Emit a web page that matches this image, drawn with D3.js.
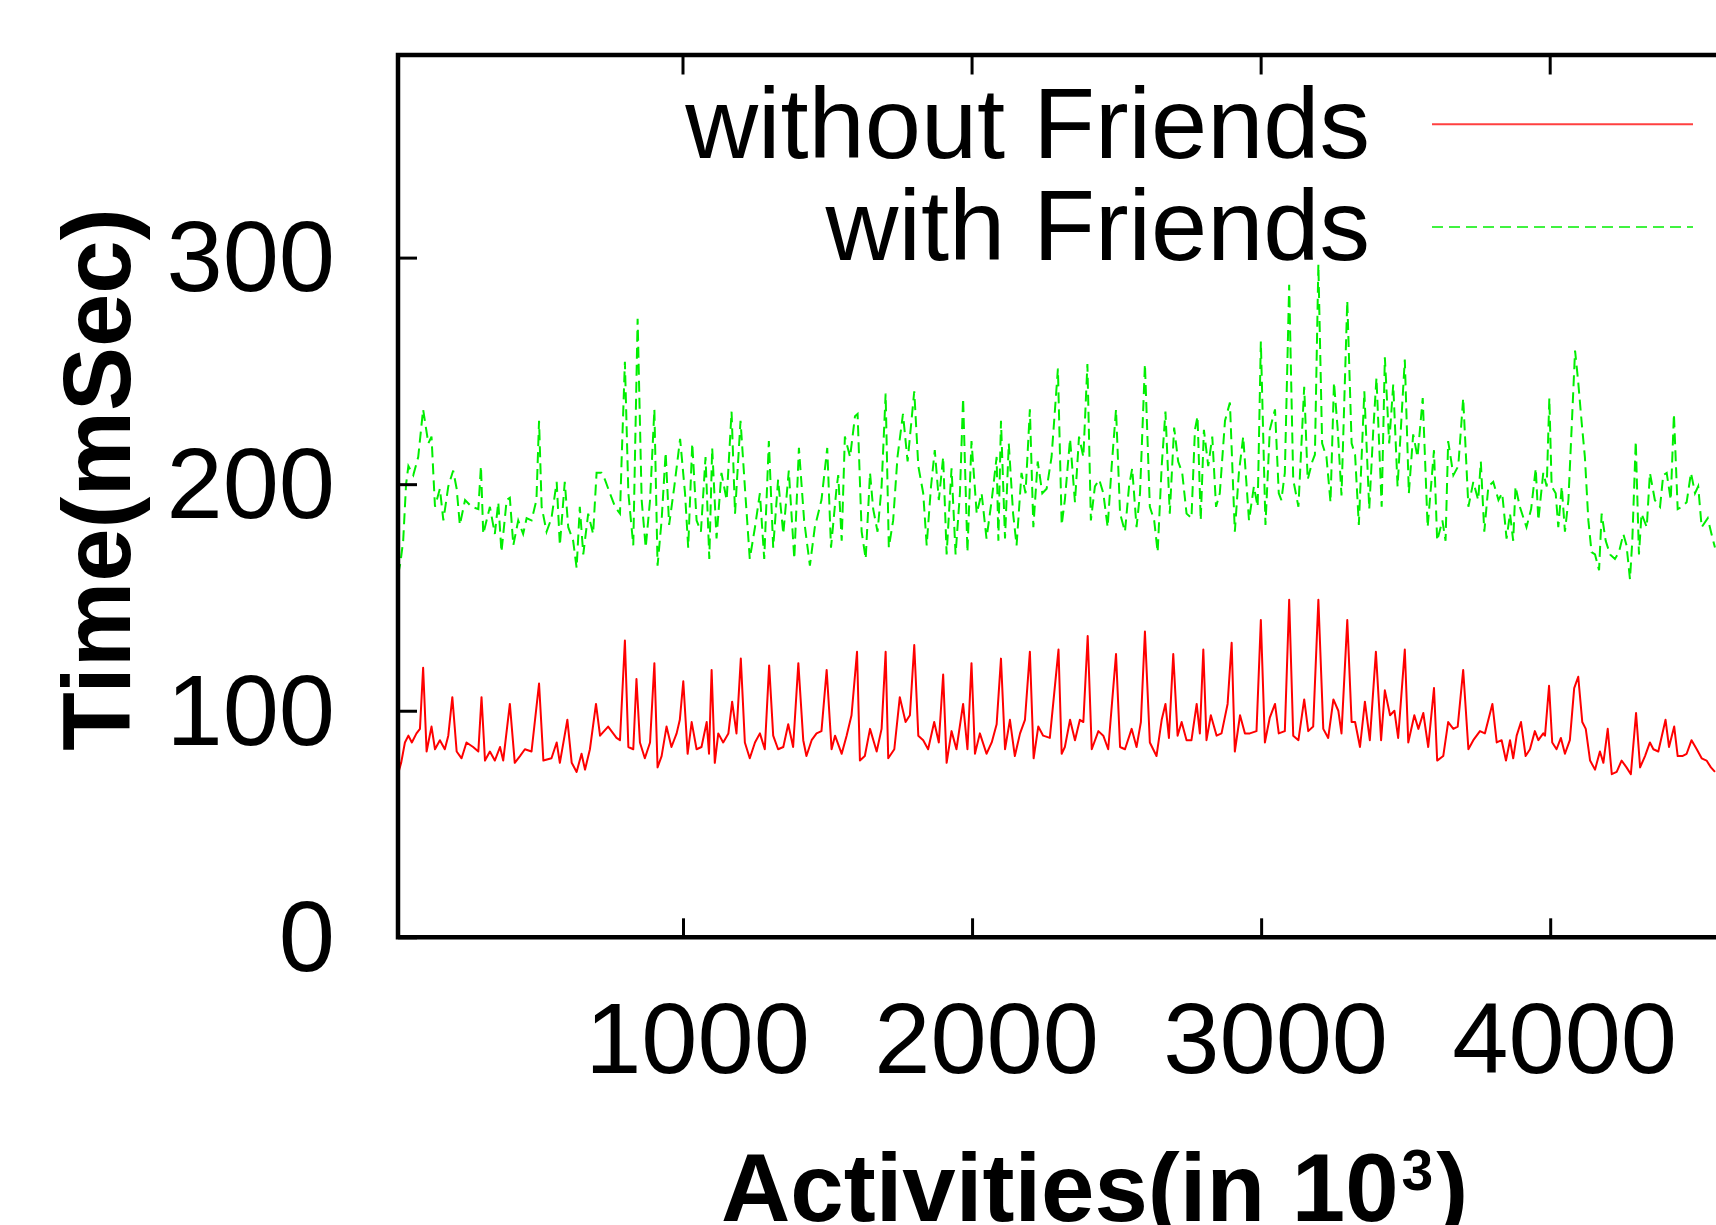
<!DOCTYPE html>
<html><head><meta charset="utf-8">
<script src="https://cdn.jsdelivr.net/npm/d3@7"></script>
<style>html,body{margin:0;padding:0;background:#fff;overflow:hidden}</style>
</head><body>
<svg id="c" width="1716" height="1225"></svg>
<script>
// ---------- data ----------
const xTicks = [1000, 2000, 3000, 4000];
const yTicks = [0, 100, 200, 300];
const seriesNames = ["without Friends", "with Friends"];
const xTitle = "Activities(in 10";
const xTitleSup = "3";
const yTitle = "Time(mSec)";

const redX = [14,25,38,50,62,78,90,101,113,130,142,159,176,188,202,217,234,251,274,292,303,315,332,349,367,378,401,418,436,453,476,502,517,545,563,574,600,615,632,649,661,678,699,713,741,770,782,799,811,828,839,851,868,886,901,912,926,943,960,978,989,1001,1016,1030,1047,1064,1082,1090,1099,1110,1122,1139,1157,1170,1185,1200,1214,1231,1249,1266,1283,1298,1312,1329,1347,1364,1381,1399,1416,1427,1445,1462,1479,1497,1514,1526,1549,1566,1583,1602,1612,1629,1647,1670,1687,1701,1710,1731,1750,1770,1785,1800,1814,1831,1848,1869,1885,1900,1912,1929,1946,1969,1984,1998,2010,2027,2050,2068,2085,2100,2114,2131,2148,2166,2183,2200,2213,2229,2246,2269,2299,2310,2321,2339,2356,2373,2385,2400,2414,2437,2454,2471,2498,2512,2529,2552,2569,2584,2598,2615,2638,2656,2669,2681,2696,2711,2725,2742,2759,2777,2788,2800,2811,2826,2846,2863,2884,2898,2909,2927,2944,2961,2984,2999,3013,3030,3048,3061,3082,3097,3111,3129,3149,3163,3180,3198,3215,3232,3250,3267,3278,3298,3313,3325,3342,3359,3376,3397,3415,3428,3446,3461,3474,3497,3509,3530,3544,3561,3578,3598,3609,3630,3647,3665,3680,3699,3717,3734,3757,3774,3800,3815,3832,3847,3861,3872,3884,3899,3915,3930,3947,3959,3976,3982,3996,4007,4022,4037,4051,4068,4083,4097,4111,4123,4138,4155,4172,4184,4199,4213,4230,4247,4264,4279,4297,4311,4328,4345,4357,4374,4399,4411,4429,4441,4457,4472,4489,4507,4524,4541,4556,4570];
const redY = [72,77,86,89,86,90,92,119,82,93,83,87,83,89,106,82,79,86,84,82,106,78,82,78,84,78,103,77,80,83,82,112,78,79,86,77,96,77,73,81,74,83,103,89,93,88,87,131,84,83,114,86,79,86,121,75,80,93,84,90,96,113,81,95,83,84,95,81,118,77,90,86,90,104,90,123,86,79,86,90,83,120,89,83,84,94,84,121,87,80,87,90,91,118,83,89,81,89,98,126,78,80,92,82,92,126,79,83,106,95,98,129,89,87,83,95,86,116,77,91,83,103,83,121,81,90,81,86,94,123,83,96,80,90,96,126,79,93,89,88,127,81,84,96,87,96,95,133,83,91,89,83,125,84,83,92,84,95,135,86,80,96,103,88,125,89,95,87,87,103,90,127,87,98,89,90,103,130,82,98,90,90,91,140,86,97,103,90,91,149,89,87,105,91,93,149,92,88,105,100,90,140,95,95,84,104,87,126,87,109,98,100,88,127,86,98,92,99,84,110,78,80,95,92,93,118,83,87,91,90,103,86,87,78,87,79,89,95,80,83,91,87,90,89,111,86,83,88,81,87,110,115,95,92,78,74,82,77,92,72,73,78,75,72,99,75,80,86,83,82,96,84,93,80,80,81,87,83,79,78,75,73];

const greenX = [14,22,32,42,50,67,84,101,119,130,142,159,171,188,205,217,228,246,269,292,301,309,332,349,361,372,390,401,413,430,447,459,476,493,502,511,528,545,563,574,591,603,620,632,643,655,672,689,701,718,730,747,765,782,788,799,811,828,843,857,871,886,901,912,926,940,952,970,990,1007,1018,1032,1047,1062,1078,1091,1101,1116,1133,1151,1168,1180,1199,1216,1231,1249,1266,1281,1297,1312,1329,1347,1366,1385,1401,1419,1439,1456,1479,1499,1512,1531,1537,1549,1560,1578,1595,1604,1618,1632,1647,1658,1673,1687,1701,1712,1727,1742,1761,1777,1800,1814,1831,1843,1858,1871,1885,1900,1912,1929,1943,1958,1969,1984,1998,2016,2033,2050,2068,2085,2091,2100,2114,2127,2142,2154,2171,2185,2200,2212,2227,2243,2258,2275,2297,2310,2321,2339,2356,2370,2385,2399,2411,2425,2440,2454,2469,2483,2498,2512,2529,2543,2554,2569,2581,2598,2615,2630,2642,2656,2669,2684,2699,2713,2727,2742,2759,2771,2780,2791,2802,2817,2831,2844,2857,2875,2892,2909,2923,2938,2958,2975,2988,2999,3015,3030,3048,3061,3070,3082,3097,3111,3129,3149,3161,3177,3186,3198,3211,3226,3240,3252,3265,3278,3298,3313,3325,3338,3357,3374,3388,3399,3417,3428,3443,3457,3472,3497,3511,3526,3541,3559,3576,3598,3609,3627,3638,3647,3665,3682,3699,3717,3734,3751,3760,3772,3786,3803,3821,3834,3849,3861,3872,3880,3895,3918,3934,3950,3959,3976,3988,3997,4005,4019,4028,4040,4051,4063,4076,4086,4097,4109,4120,4132,4143,4155,4169,4178,4192,4207,4224,4238,4253,4264,4276,4284,4296,4307,4316,4334,4345,4362,4380,4391,4403,4417,4428,4441,4455,4472,4487,4501,4512,4524,4545,4558,4570];
const greenY = [160,165,175,200,208,204,212,233,218,221,190,198,184,199,206,198,182,193,190,189,208,178,190,178,192,170,193,194,173,184,178,185,184,193,228,190,179,185,201,173,201,181,175,163,190,169,187,178,205,205,202,196,190,187,212,254,196,173,273,193,172,193,233,164,184,214,182,199,220,196,172,218,184,179,212,167,216,176,205,193,232,187,228,195,167,181,196,167,219,172,202,178,206,167,216,184,164,181,193,216,172,198,204,175,221,212,230,231,179,167,205,189,179,199,240,172,184,212,231,210,241,208,196,173,199,215,193,212,169,207,169,196,238,170,219,187,196,176,193,212,175,228,176,218,187,173,205,196,233,181,210,196,198,212,251,182,193,220,192,221,212,253,184,199,202,196,181,208,233,187,179,199,207,181,196,253,190,184,170,208,232,187,225,210,205,187,185,224,230,184,224,208,221,190,196,228,236,179,205,221,184,199,190,263,182,224,233,196,193,205,288,202,190,243,202,210,213,297,218,212,192,245,224,195,281,218,213,182,241,189,224,247,190,256,218,244,199,255,196,222,212,238,181,215,175,184,175,219,204,208,238,190,201,193,210,179,199,201,193,196,176,187,175,199,190,181,189,207,184,205,199,238,199,196,181,199,179,193,230,259,245,227,212,184,170,169,162,187,175,169,167,170,178,173,158,175,219,169,187,181,205,193,190,204,205,193,231,189,190,192,205,196,199,181,185,178,172];

// ---------- layout ----------
const FONT = "'Liberation Sans', Arial, Helvetica, sans-serif";
const plotLeft = 398, plotTop = 55, plotBottom = 937.3, plotRight = 1720;
const x = d3.scaleLinear().domain([1000, 4000]).range([683, 1550.2]);
const y = d3.scaleLinear().domain([0, 300]).range([937.3, 257.6]);

const svg = d3.select("#c");
svg.append("rect").attr("width", 1716).attr("height", 1225).attr("fill", "#fff");

svg.append("defs").append("clipPath").attr("id", "plotclip")
  .append("rect").attr("x", plotLeft).attr("y", plotTop)
  .attr("width", plotRight - plotLeft).attr("height", plotBottom - plotTop);

// series lines
const line = d3.line().x(d => x(d[0])).y(d => y(d[1]));
const redData = redX.map((v, i) => [v, redY[i]]);
const greenData = greenX.map((v, i) => [v, greenY[i]]);
const g = svg.append("g").attr("clip-path", "url(#plotclip)");
g.append("path").datum(greenData).attr("d", line)
  .attr("fill", "none").attr("stroke", "#00ee00").attr("stroke-width", 2)
  .attr("stroke-dasharray", "11,6");
g.append("path").datum(redData).attr("d", line)
  .attr("fill", "none").attr("stroke", "#ff0000").attr("stroke-width", 2)
  .attr("stroke-linejoin", "round");

// axes
const yAxis = d3.axisLeft(y).tickValues(yTicks).tickSizeInner(-19).tickSizeOuter(0)
  .tickPadding(63).tickFormat(d3.format("d"));
const ya = svg.append("g").attr("transform", `translate(${plotLeft},0)`).call(yAxis);
ya.select(".domain").remove();
ya.selectAll(".tick line").attr("stroke", "#000").attr("stroke-width", 3);
ya.selectAll(".tick text").attr("font-family", FONT).attr("font-size", 101)
  .attr("fill", "#000").attr("dy", "0.33em");

const xAxis = d3.axisBottom(x).tickValues(xTicks).tickSizeInner(-19).tickSizeOuter(0)
  .tickPadding(64).tickFormat(d3.format("d"));
const xa = svg.append("g").attr("transform", `translate(0,${plotBottom})`).call(xAxis);
xa.select(".domain").remove();
xa.selectAll(".tick line").attr("stroke", "#000").attr("stroke-width", 3);
xa.selectAll(".tick text").attr("font-family", FONT).attr("font-size", 101)
  .attr("fill", "#000").attr("dx", 14);

// mirror ticks on top border
svg.append("g").selectAll("line").data(xTicks).join("line")
  .attr("x1", d => x(d)).attr("x2", d => x(d))
  .attr("y1", plotTop).attr("y2", plotTop + 19.5)
  .attr("stroke", "#000").attr("stroke-width", 3);

// frame
const frame = svg.append("g").attr("stroke", "#000").attr("stroke-width", 4.5).attr("fill", "none");
frame.append("path").attr("d", `M${plotRight},${plotTop}H${plotLeft}V${plotBottom}H${plotRight}`)
  .attr("stroke-linecap", "square");

// axis titles
svg.append("text").attr("transform", "translate(130,479.5) rotate(-90)")
  .attr("text-anchor", "middle").attr("font-family", FONT).attr("font-weight", "bold")
  .attr("font-size", 96).attr("fill", "#000").text(yTitle);

const xt = svg.append("text").attr("x", 721).attr("y", 1221)
  .attr("font-family", FONT).attr("font-weight", "bold").attr("font-size", 96).attr("fill", "#000");
xt.append("tspan").text(xTitle);
xt.append("tspan").attr("dx", 3).attr("dy", -31).attr("font-size", 57).text(xTitleSup);
xt.append("tspan").attr("dx", 3).attr("dy", 31).text(")");

// legend
const legY = [158, 259.6];
const legLineY = [124.3, 227];
const legend = svg.append("g");
seriesNames.forEach((name, i) => {
  legend.append("text").attr("x", 1370).attr("y", legY[i]).attr("text-anchor", "end")
    .attr("font-family", FONT).attr("font-size", 101).attr("fill", "#000").text(name);
  legend.append("line").attr("x1", 1432).attr("x2", 1693)
    .attr("y1", legLineY[i]).attr("y2", legLineY[i])
    .attr("stroke", i === 0 ? "#ff0000" : "#00ee00").attr("stroke-width", 2)
    .attr("stroke-dasharray", i === 0 ? null : "11,6").attr("stroke-opacity", 0.75);
});
</script>
</body></html>
